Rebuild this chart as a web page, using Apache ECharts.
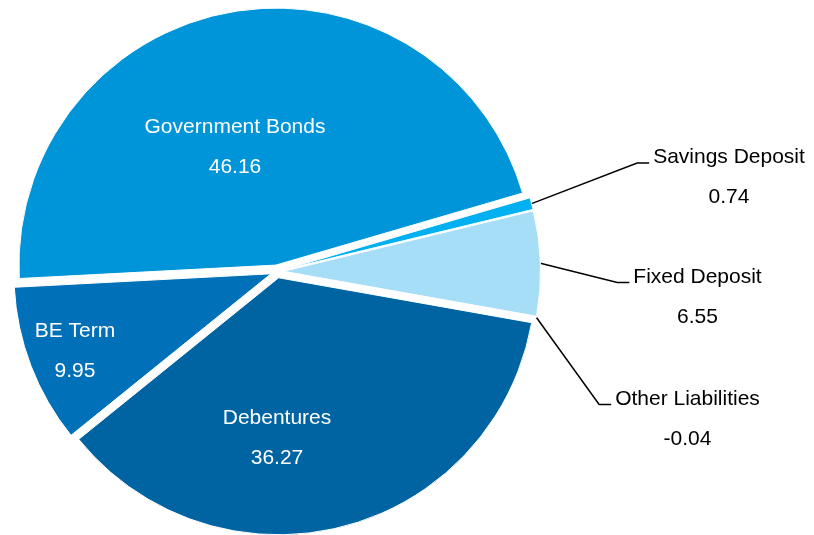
<!DOCTYPE html>
<html><head><meta charset="utf-8">
<script src="https://cdn.jsdelivr.net/npm/echarts@6/dist/echarts.min.js"></script>
<style>html,body{margin:0;padding:0;background:#fff}#c{width:814px;height:535px}</style>
</head><body><div id="c"></div>
<script>
// ---- data ----
const categories = ['Government Bonds', 'Savings Deposit', 'Fixed Deposit', 'Other Liabilities', 'Debentures', 'BE Term'];
const values = [46.16, 0.74, 6.55, -0.04, 36.27, 9.95];

// ---- styles / layout config ----
const colors = ['#0095D9', '#00B0F0', '#A6DDF7', '#7DBFE3', '#0064A3', '#0071B9'];
const insideLabel = [true, false, false, false, true, true];
const labelAt = [[235, 147.5], [727, 163], [695.5, 282.5], [685.5, 404.5], [277, 438.5], [75, 351]];
const CX = 277, CY = 271.5, R = 257, EXPLODE = 6.5, START = 183;
const FONT = '"Liberation Sans", Arial, sans-serif';

// a negative share cannot be drawn as a slice: it takes no angle, but its label shows the real value
const sliceValues = values.map(v => Math.max(v, 0));
const sum = sliceValues.reduce((a, b) => a + b, 0);
let cursor = START;
const mids = sliceValues.map(v => {
  const a = v / sum * 360;
  const m = cursor - a / 2;
  cursor -= a;
  return m;
});
const valueOf = name => values[categories.indexOf(name)];

const insideStyle = {
  show: true, position: 'inside', color: '#fff',
  formatter: p => p.name + '\n' + valueOf(p.name),
  fontFamily: FONT, fontSize: 21, lineHeight: 40, overflow: 'none'
};
const outsideStyle = {
  show: true, position: 'outside', alignTo: 'none', color: '#000', overflow: 'none',
  formatter: p => '{g| }\n{t|' + p.name + '}\n{t|' + valueOf(p.name) + '}',
  padding: [0, 0, 0, 4], backgroundColor: 'rgba(255,255,255,0)',
  rich: {
    g: { fontSize: 10, lineHeight: 29, height: 29 },
    t: { fontFamily: FONT, fontSize: 21, lineHeight: 40, color: '#000' }
  }
};

const series = categories.map((name, k) => {
  const rad = mids[k] * Math.PI / 180;
  return {
    type: 'pie', name: name, radius: R,
    center: [CX + EXPLODE * Math.cos(rad), CY - EXPLODE * Math.sin(rad)],
    startAngle: START, clockwise: true, animation: false, silent: true,
    avoidLabelOverlap: false, emphasis: { disabled: true },
    labelLayout: function (p) {
      if (!p.text || p.text.indexOf(categories[k]) < 0) return {};
      return { x: labelAt[k][0], y: labelAt[k][1], align: 'center', verticalAlign: 'middle' };
    },
    data: categories.map((n, i) => ({
      name: n, value: sliceValues[i],
      itemStyle: i === k ? { color: colors[i], borderColor: '#fff', borderWidth: 1 }
                         : { color: 'rgba(0,0,0,0)', borderWidth: 0 },
      label: i === k ? (insideLabel[i] ? insideStyle : outsideStyle) : { show: false },
      labelLine: (i === k && !insideLabel[i])
        ? { show: true, length: 20, length2: 12, lineStyle: { color: '#000', width: 1.5 } }
        : { show: false }
    }))
  };
});

const chart = echarts.init(document.getElementById('c'), null, { renderer: 'canvas' });
chart.setOption({ animation: false, backgroundColor: '#fff', series: series });
</script>
</body></html>
